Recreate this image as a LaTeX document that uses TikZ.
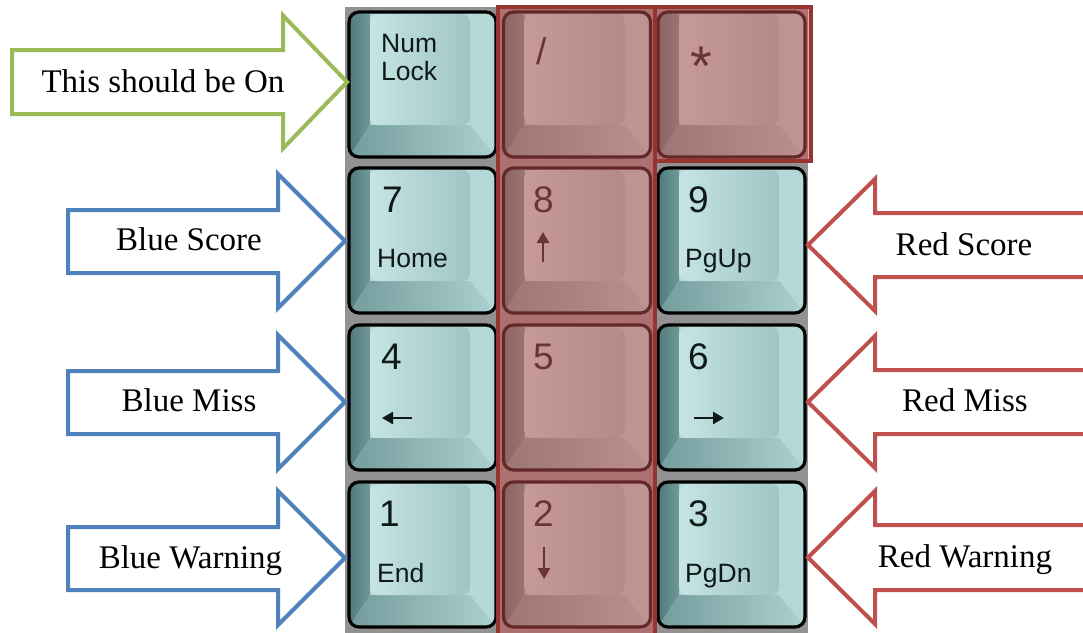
\documentclass[tikz,border=0pt]{standalone}
\usepackage{fontspec}
\setmainfont{Liberation Serif}
\newfontfamily\keyfont{Liberation Sans}
\usetikzlibrary{arrows.meta}
\definecolor{grn}{RGB}{155,187,89}
\definecolor{blu}{RGB}{79,129,189}
\definecolor{rdd}{RGB}{192,80,77}
\definecolor{padgray}{RGB}{146,146,146}
\definecolor{kdark}{RGB}{82,122,122}
\definecolor{kdark2}{RGB}{112,152,152}
\definecolor{kright}{RGB}{180,215,215}
\definecolor{kbot1}{RGB}{116,156,156}
\definecolor{kbot2}{RGB}{172,208,208}
\definecolor{kface1}{RGB}{198,228,228}
\definecolor{kfacem}{RGB}{182,214,214}
\definecolor{kface2}{RGB}{160,196,196}
\definecolor{keyink}{RGB}{15,25,25}
\definecolor{ovfill}{RGB}{200,80,80}
\definecolor{ovline}{RGB}{150,52,48}
\newcommand\keycap[3]{%
  \begin{scope}[shift={(#2,#3)}]
    \begin{scope}
      \clip[rounded corners=10pt] (0,0) rectangle (147,145);
      \fill[kright] (0,0) rectangle (147,145);
      \shade[left color=kdark, right color=kdark2] (0,0) -- (21,2) -- (21,113) -- (0,145) -- cycle;
      \shade[left color=kbot1, right color=kbot2] (0,145) -- (21,113) -- (121,113) -- (147,145) -- cycle;
    \end{scope}
    \shade[rounded corners=8pt, left color=kface1, middle color=kfacem, right color=kface2] (21,2) rectangle (121,113);
    \node[keyrim] (#1) at (73.5,72.5) {};
  \end{scope}}
\begin{document}
\begin{tikzpicture}[x=1pt,y=-1pt,
  keyrim/.style={draw=black, line width=3.2pt, rounded corners=10pt, rectangle,
    minimum width=147pt, minimum height=145pt, inner sep=0pt},
  digit/.style={font=\keyfont\fontsize{37}{40}\selectfont, inner sep=0pt, anchor=base west, text=keyink},
  klabel/.style={font=\keyfont\fontsize{26.5}{30}\selectfont, inner sep=0pt, anchor=base west, text=keyink},
  keyarrow/.style={draw=keyink, line width=2.6pt, -{Triangle[length=11pt,width=12pt]}},
  callout/.style={font=\fontsize{33}{40}\selectfont, inner sep=0pt, anchor=base},
  block/.style={fill=white, line width=4pt, line join=miter},
  overlay/.style={fill=ovfill, fill opacity=0.5, draw=ovline, draw opacity=1, line width=3.5pt}]
\useasboundingbox (0,0) rectangle (1083,632);
\clip (0,0) rectangle (1083,632);
% keypad background
\fill[padgray] (345,7) rectangle (808,640);
% keys
\keycap{knum}{349}{12}
\keycap{kslash}{503.5}{12}
\keycap{kstar}{658}{12}
\keycap{k7}{349}{168}
\keycap{k8}{503.5}{168}
\keycap{k9}{658}{168}
\keycap{k4}{349}{325}
\keycap{k5}{503.5}{325}
\keycap{k6}{658}{325}
\keycap{k1}{349}{482}
\keycap{k2}{503.5}{482}
\keycap{k3}{658}{482}
% key legends
\node[klabel] (tnumA) at (381,52) {Num};
\node[klabel] (tnumB) at (381,80) {Lock};
\node[digit] (tslash) at (536,64) {/};
\node[digit, font=\keyfont\fontsize{56}{60}\selectfont] (tstar) at (690,85) {*};
\node[digit] (t7) at (382,212) {7};
\node[klabel] (t7b) at (377,267) {Home};
\node[digit] (t8) at (533,212) {8};
\coordinate (a8s) at (543,262);
\coordinate (a8e) at (543,232);
\draw[keyarrow] (a8s) -- (a8e);
\node[digit] (t9) at (688,212) {9};
\node[klabel] (t9b) at (685,267) {PgUp};
\node[digit] (t4) at (381,369) {4};
\coordinate (a4s) at (412,418);
\coordinate (a4e) at (382,418);
\draw[keyarrow] (a4s) -- (a4e);
\node[digit] (t5) at (533,369) {5};
\node[digit] (t6) at (688,369) {6};
\coordinate (a6s) at (694,418);
\coordinate (a6e) at (724,418);
\draw[keyarrow] (a6s) -- (a6e);
\node[digit] (t1) at (379,526) {1};
\node[klabel] (t1b) at (377,582) {End};
\node[digit] (t2) at (533,526) {2};
\coordinate (a2s) at (544,547);
\coordinate (a2e) at (544,579);
\draw[keyarrow] (a2s) -- (a2e);
\node[digit] (t3) at (688,526) {3};
\node[klabel] (t3b) at (685,582) {PgDn};
% red overlays
\path[overlay] (498,7) rectangle (655,640);
\path[overlay] (655,7) rectangle (811,161);
% green call-out
\draw[block, draw=grn] (12,50) -- (283,50) -- (283,15.5) -- (347,82) -- (283,148.5) -- (283,114) -- (12,114) -- cycle;
\node[callout] (lnum) at (163,92) {This should be On};
% blue call-outs
\draw[block, draw=blu] (68,210) -- (278,210) -- (278,174) -- (345,241) -- (278,308) -- (278,273) -- (68,273) -- cycle;
\node[callout] (lbs) at (189,250) {Blue Score};
\draw[block, draw=blu] (68,371) -- (278,371) -- (278,335) -- (345,402) -- (278,469) -- (278,434) -- (68,434) -- cycle;
\node[callout] (lbm) at (189,411) {Blue Miss};
\draw[block, draw=blu] (68,527) -- (278,527) -- (278,491) -- (345,558) -- (278,625) -- (278,590) -- (68,590) -- cycle;
\node[callout] (lbw) at (190.5,568) {Blue Warning};
% red call-outs
\draw[block, draw=rdd] (1100,213) -- (875,213) -- (875,179) -- (808,245) -- (875,311) -- (875,277) -- (1100,277) -- cycle;
\node[callout] (lrs) at (964,255) {Red Score};
\draw[block, draw=rdd] (1100,370) -- (875,370) -- (875,336) -- (808,402) -- (875,468) -- (875,434) -- (1100,434) -- cycle;
\node[callout] (lrm) at (965,411) {Red Miss};
\draw[block, draw=rdd] (1100,525) -- (875,525) -- (875,491) -- (808,557.5) -- (875,624) -- (875,590) -- (1100,590) -- cycle;
\node[callout] (lrw) at (965,567) {Red Warning};
\end{tikzpicture}
\end{document}
